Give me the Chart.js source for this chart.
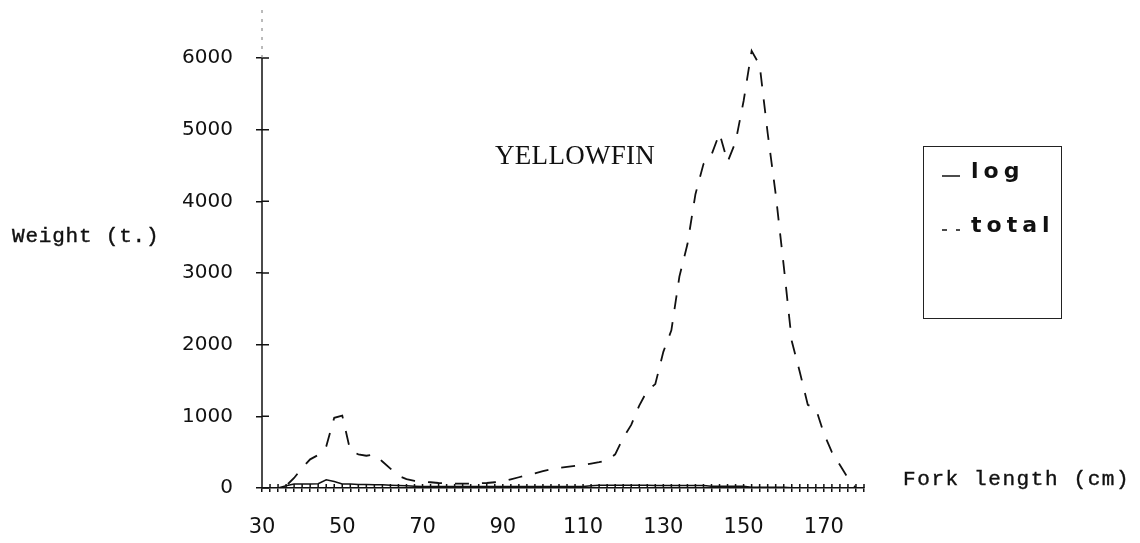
<!DOCTYPE html>
<html>
<head>
<meta charset="utf-8">
<script src="https://cdn.jsdelivr.net/npm/chart.js@4.4.0/dist/chart.umd.min.js"></script>
<style>
  html, body { margin: 0; padding: 0; background: #fff; }
  #wrap { position: relative; width: 1140px; height: 543px; overflow: hidden; }
  #fishChart { position: absolute; left: 0; top: 0; }
  .lbl { position: absolute; color: #111; white-space: nowrap; line-height: 1; }
  .mono { font-family: "Liberation Mono", "DejaVu Sans Mono", monospace; font-size: 21px; -webkit-text-stroke: 0.4px #111; }
  #title { font-family: "Liberation Serif", serif; font-size: 27px; letter-spacing: 0.3px; }
  #legendBox { position: absolute; left: 923px; top: 146px; width: 139px; height: 173px; border: 1.5px solid #222; box-sizing: border-box; }
  .legRow { position: absolute; left: 0; }
  .legRow svg { position: absolute; left: 17px; }
  .legRow span { position: absolute; left: 47px; font-family: "DejaVu Sans", sans-serif; font-weight: bold; font-size: 22px; letter-spacing: 5px; color: #111; line-height: 1; }
</style>
</head>
<body>
<div id="wrap">
  <canvas id="fishChart" width="1140" height="543"></canvas>
  <div class="lbl mono" style="left:12px; top:226px; letter-spacing:0.8px">Weight (t.)</div>
  <div class="lbl mono" style="left:903px; top:469px; letter-spacing:1.6px">Fork length (cm)</div>
  <div class="lbl" id="title" style="left:495px; top:142px">YELLOWFIN</div>
  <div id="legendBox"></div>
</div>
<script>
// fork length classes (cm)
const lengths = [30, 32, 34, 36, 38, 40, 42, 44, 46, 48, 50, 52, 54, 56, 58, 60, 62, 64, 66, 68,
    70, 72, 74, 76, 78, 80, 82, 84, 86, 88, 90, 92, 94, 96, 98, 100, 102, 104, 106, 108,
    110, 112, 114, 116, 118, 120, 122, 124, 126, 128, 130, 132, 134, 136, 138, 140, 142, 144, 146, 148,
    150, 152, 154, 156, 158, 160, 162, 164, 166, 168, 170, 172, 174, 176, 178, 180]

// weight (t.) caught on logs
const logWeight = [0, 0, 0, 30, 55, 55, 55, 60, 115, 90, 55, 55, 50, 50, 45, 45, 40, 35, 30, 25,
    20, 20, 20, 20, 20, 20, 20, 20, 20, 20, 20, 20, 20, 20, 20, 20, 20, 20, 20, 20,
    20, 30, 40, 40, 40, 40, 40, 40, 40, 35, 35, 35, 35, 35, 35, 35, 25, 25, 25, 25,
    25, 10, 10, 10, 10, 10, 5, 5, 5, 5, 5, 5, 5, 5, 0, 0]

// total weight (t.)
const totalWeight = [0, 0, 0, 30, 140, 280, 400, 460, 580, 980, 1010, 520, 470, 450, 470, 370, 270, 170, 125, 100,
    90, 80, 70, 65, 60, 60, 60, 65, 70, 80, 90, 120, 150, 180, 205, 235, 260, 280, 295, 310,
    320, 340, 360, 385, 470, 700, 880, 1150, 1360, 1450, 1900, 2200, 2950, 3400, 4100, 4520, 4650, 4950, 4550, 4830,
    5400, 6100, 5900, 4950, 4100, 3100, 2050, 1620, 1160, 1110, 760, 500, 320, 140, 0, 0]

const xTickLabels = [30, 50, 70, 90, 110, 130, 150, 170]
const yTicks = [0, 1000, 2000, 3000, 4000, 5000, 6000]

const ink = '#111'

const crossTicks = {
    id: 'crossTicks',
    afterDraw(chart) {
        const { ctx, chartArea, scales: { x, y } } = chart
        ctx.save()
        ctx.strokeStyle = ink
        ctx.lineWidth = 1.5
        ctx.beginPath()
        x.ticks.forEach(t => {
            const px = x.getPixelForValue(t.value)
            ctx.moveTo(px, chartArea.bottom)
            ctx.lineTo(px, chartArea.bottom - 4)
        })
        y.ticks.forEach(t => {
            const py = y.getPixelForValue(t.value)
            ctx.moveTo(chartArea.left, py)
            ctx.lineTo(chartArea.left + 7, py)
        })
        // y axis, solid up to the last tick
        const topPx = y.getPixelForValue(yTicks[yTicks.length - 1])
        ctx.moveTo(chartArea.left, chartArea.bottom)
        ctx.lineTo(chartArea.left, topPx)
        ctx.stroke()

        // faint dotted bit above
        ctx.beginPath()
        ctx.strokeStyle = '#777'
        ctx.lineWidth = 1
        ctx.setLineDash([3, 6])
        ctx.moveTo(chartArea.left, topPx)
        ctx.lineTo(chartArea.left, chartArea.top)
        ctx.stroke()
        ctx.restore()
    }
}

const ctx = document.getElementById('fishChart').getContext('2d')
const fishChart = new Chart(ctx, {
    type: 'line',
    data: {
        labels: lengths,
        datasets: [{
            label: 'log',
            data: lengths.map((l, i) => ({ x: l, y: logWeight[i] })),
            borderColor: ink,
            borderWidth: 1.5,
            pointRadius: 0,
            tension: 0,
            fill: false
        }, {
            label: 'total',
            data: lengths.map((l, i) => ({ x: l, y: totalWeight[i] })),
            borderColor: ink,
            borderWidth: 1.8,
            borderDash: [14, 13],
            pointRadius: 0,
            tension: 0,
            fill: false
        }]
    },
    options: {
        responsive: false,
        animation: false,
        layout: { padding: { left: 182, right: 276, top: 10, bottom: 0 } },
        plugins: {
            legend: { display: false },
            tooltip: { enabled: false }
        },
        scales: {
            x: {
                type: 'linear',
                min: 30,
                max: 180,
                afterFit: s => { s.height = 55; s.paddingLeft = 0; s.paddingRight = 0 },
                grid: { drawOnChartArea: false, tickLength: 4, tickColor: ink, lineWidth: 1.5 },
                border: { display: true, color: ink, width: 1.5 },
                ticks: {
                    stepSize: 2,
                    autoSkip: false,
                    maxRotation: 0,
                    padding: 23,
                    color: ink,
                    font: { family: 'DejaVu Sans', size: 21 },
                    callback: v => xTickLabels.includes(v) ? String(v) : ''
                }
            },
            y: {
                min: 0,
                max: 6670,
                afterBuildTicks: s => { s.ticks = yTicks.map(v => ({ value: v })) },
                afterFit: s => { s.width = 80; s.paddingTop = 0; s.paddingBottom = 0 },
                grid: { drawOnChartArea: false, tickLength: 6, tickColor: ink, lineWidth: 1.5 },
                border: { display: false },
                ticks: {
                    padding: 23,
                    color: ink,
                    font: { family: 'DejaVu Sans', size: 20 },
                    callback: v => String(v)
                }
            }
        }
    },
    plugins: [crossTicks]
})

// legend box built from the datasets
const box = document.getElementById('legendBox')
const rowTops = [12, 66]
fishChart.data.datasets.forEach((ds, i) => {
    const row = document.createElement('div')
    row.className = 'legRow'
    row.style.top = rowTops[i] + 'px'
    const dash = ds.borderDash ? '5 9' : 'none'
    row.innerHTML = '<svg width="20" height="24" style="top:0"><line x1="1" y1="17" x2="19" y2="17" stroke="#111" stroke-width="1.5" stroke-dasharray="' + dash + '"/></svg>' +
        '<span style="top:1px">' + ds.label + '</span>'
    box.appendChild(row)
})
</script>
</body>
</html>
